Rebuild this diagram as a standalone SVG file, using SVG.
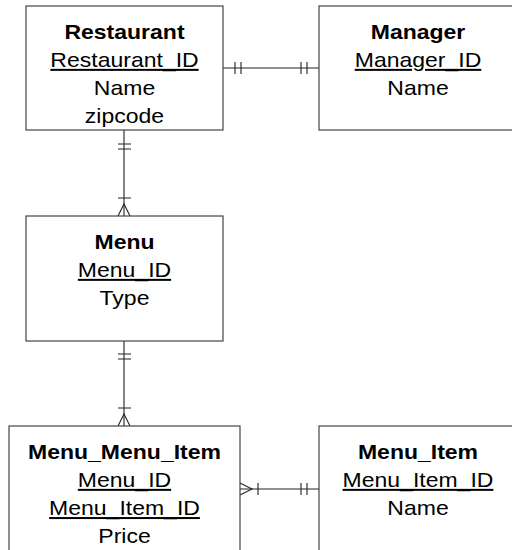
<svg xmlns="http://www.w3.org/2000/svg" width="512" height="550" viewBox="0 0 512 550">
  <style>
    .box { fill: #ffffff; stroke: #444444; stroke-width: 1.2; }
    .conn { fill: none; stroke: #222222; stroke-width: 1.1; }
    text { font-family: "Liberation Sans", Arial, sans-serif; font-size: 20px; fill: #000000; text-anchor: middle; }
    .title { font-weight: bold; }
    .key { text-decoration: underline; }
  </style>
  <rect width="512" height="550" fill="#ffffff"/>

  <!-- Relationship lines with crow's-foot cardinality marks -->
  <g id="connectors" class="conn">
    <!-- Restaurant || —— || Manager -->
    <path d="M223 68 H319"/>
    <path d="M235 62 V74 M241 62 V74 M301 62 V74 M307 62 V74"/>
    <!-- Restaurant || —— |< Menu -->
    <path d="M124 130 V216"/>
    <path d="M118 144 H131 M118 149 H131 M118 198 H131"/>
    <path d="M118 216 L124 204 L130 216"/>
    <!-- Menu || —— |< Menu_Menu_Item -->
    <path d="M124 341 V426"/>
    <path d="M118 354 H131 M118 359 H131 M118 408 H131"/>
    <path d="M118 426 L124 414 L130 426"/>
    <!-- Menu_Menu_Item >| —— || Menu_Item -->
    <path d="M240 489 H319"/>
    <path d="M240 483 L252 489 L240 495"/>
    <path d="M258 483 V495 M301 483 V495 M307 483 V495"/>
  </g>

  <g id="restaurant">
    <rect class="box" x="26" y="6" width="197" height="124"/>
    <text class="title" transform="translate(124.5 38.8) scale(1.15 1)">Restaurant</text>
    <text class="key" transform="translate(124.5 67) scale(1.15 1)">Restaurant_ID</text>
    <text transform="translate(124.5 95.2) scale(1.15 1)">Name</text>
    <text transform="translate(124.5 123.4) scale(1.15 1)">zipcode</text>
  </g>

  <g id="manager">
    <rect class="box" x="319" y="6" width="198" height="124"/>
    <text class="title" transform="translate(418 38.8) scale(1.15 1)">Manager</text>
    <text class="key" transform="translate(418 67) scale(1.15 1)">Manager_ID</text>
    <text transform="translate(418 95.2) scale(1.15 1)">Name</text>
  </g>

  <g id="menu">
    <rect class="box" x="26" y="216" width="197" height="125"/>
    <text class="title" transform="translate(124.5 248.8) scale(1.15 1)">Menu</text>
    <text class="key" transform="translate(124.5 277) scale(1.15 1)">Menu_ID</text>
    <text transform="translate(124.5 305.2) scale(1.15 1)">Type</text>
  </g>

  <g id="menu_menu_item">
    <rect class="box" x="9" y="426" width="231" height="130"/>
    <text class="title" transform="translate(124.5 458.8) scale(1.15 1)">Menu_Menu_Item</text>
    <text class="key" transform="translate(124.5 487) scale(1.15 1)">Menu_ID</text>
    <text class="key" transform="translate(124.5 515.2) scale(1.15 1)">Menu_Item_ID</text>
    <text transform="translate(124.5 543.4) scale(1.15 1)">Price</text>
  </g>

  <g id="menu_item">
    <rect class="box" x="319" y="426" width="198" height="130"/>
    <text class="title" transform="translate(418 458.8) scale(1.15 1)">Menu_Item</text>
    <text class="key" transform="translate(418 487) scale(1.15 1)">Menu_Item_ID</text>
    <text transform="translate(418 515.2) scale(1.15 1)">Name</text>
  </g>
</svg>
